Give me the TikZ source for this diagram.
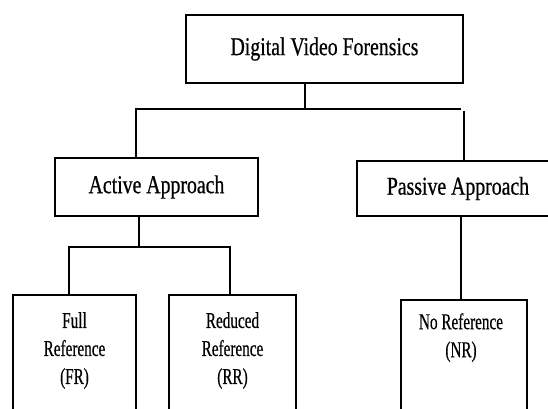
\documentclass[tikz,border=0pt]{standalone}
\usepackage{fontspec}
\newfontfamily\bigfont[FakeStretch=0.77,FakeBold=0.6]{Liberation Serif}
\newfontfamily\smallfont[FakeStretch=0.67,FakeBold=0.5]{Liberation Serif}
\begin{document}
\begin{tikzpicture}[x=1pt,y=-1pt,
  box/.style={draw, line width=2.8pt, inner sep=0pt, rectangle},
  big/.style={font=\bigfont\fontsize{25.7}{30}\selectfont},
  lbl/.style={font=\smallfont\fontsize{22.7}{28}\selectfont, align=center, inner sep=0pt, anchor=north},
  conn/.style={line width=2.6pt}]
\useasboundingbox (0,0) rectangle (548,408);
\clip (0,0) rectangle (548,408);
\fill[white] (0,0) rectangle (548,408);
% boxes
\node[box, big, minimum width=277pt, minimum height=68pt] (top) at (324.5,49) {Digital Video Forensics};
\node[box, big, minimum width=203pt, minimum height=58pt] (active) at (156.5,187) {Active Approach};
\node[box, big, minimum width=202pt, minimum height=55pt] (passive) at (458,188.5) {Passive Approach};
\node[box, minimum width=123pt, minimum height=135pt] (fr) at (74.5,362.5) {};
\node[box, minimum width=127pt, minimum height=135pt] (rr) at (232.5,362.5) {};
\node[box, minimum width=126pt, minimum height=130pt] (nr) at (464,365) {};
% texts of the lower boxes
\node[lbl] (frt) at (74.5,312) {Full\\Reference\\(FR)};
\node[lbl] (rrt) at (232.5,312) {Reduced\\Reference\\(RR)};
\node[lbl] (nrt) at (461,313) {No Reference\\(NR)};
% connectors
\coordinate (j1) at (305,109);
\coordinate (ja) at (136,109);
\coordinate (jb) at (461,109);
\coordinate (jp) at (464,111);
\draw[conn] (top.south -| j1) -- (j1);
\draw[conn] (active.north -| ja) -- (ja) -- (jb);
\draw[conn] (jp) -- (jp |- passive.north);
\coordinate (k) at (139,247);
\coordinate (kl) at (69,247);
\coordinate (kr) at (230,247);
\draw[conn] (active.south -| k) -- (k);
\draw[conn] (fr.north -| kl) -- (kl) -- (kr) -- (kr |- rr.north);
\coordinate (ns) at (461,250);
\draw[conn] (passive.south -| ns) -- (nr.north -| ns);
\end{tikzpicture}
\end{document}
